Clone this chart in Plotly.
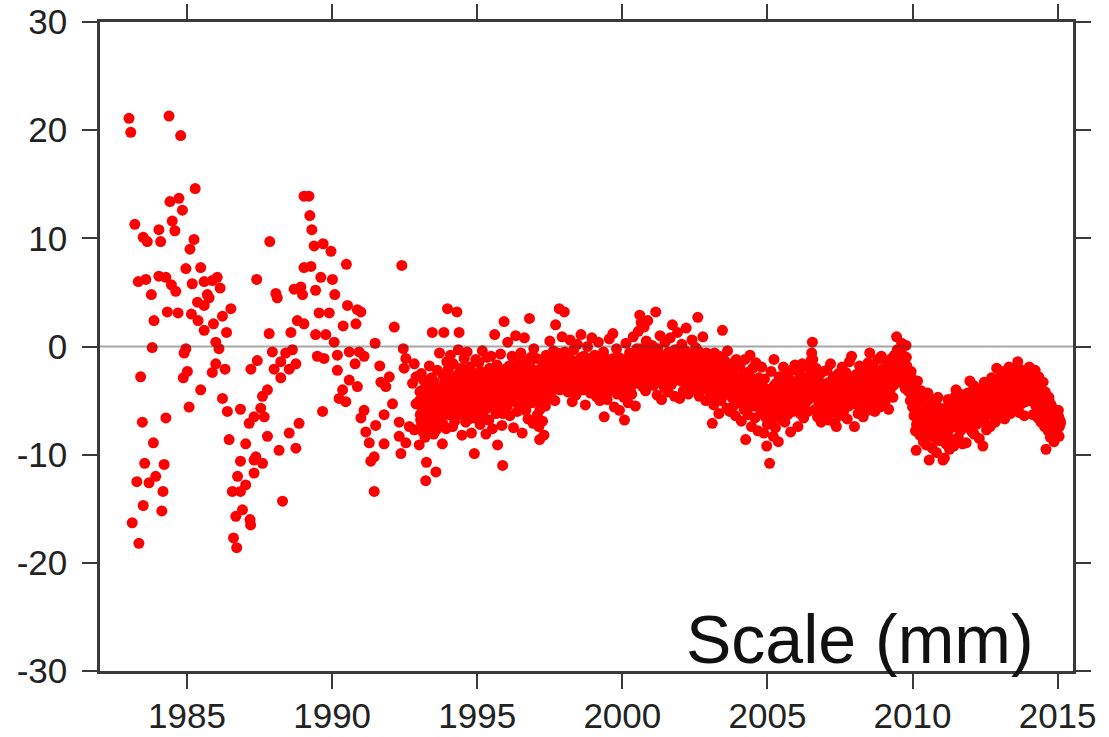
import plotly.graph_objects as go

# ---- sparse early solutions (epoch in decimal years, scale in mm) ----
early_epoch = [
    1983.00, 1983.06, 1984.38, 1984.78, 1985.28, 1984.41, 1984.72, 1984.84, 1983.20, 1984.49,
    1984.58, 1983.49, 1983.63, 1984.03, 1984.09, 1985.24, 1985.10, 1984.96, 1985.47, 1983.32,
    1983.58, 1984.03, 1984.27, 1984.46, 1984.61, 1983.77, 1985.18, 1985.59, 1985.87, 1986.04,
    1986.14, 1985.70, 1985.36, 1985.59, 1985.76, 1984.32, 1984.69, 1985.15, 1983.86, 1985.38,
    1985.59, 1985.91, 1986.22, 1986.51, 1986.36, 1983.80, 1984.96, 1984.90, 1985.99, 1986.10,
    1983.40, 1985.01, 1984.87, 1985.87, 1985.99, 1986.31, 1985.47, 1986.22, 1985.07, 1986.39,
    1986.84, 1983.46, 1984.27, 1987.14, 1983.84, 1986.45, 1987.02, 1983.54, 1984.21, 1986.84,
    1987.31, 1983.27, 1983.69, 1983.92, 1984.17, 1986.74, 1986.56, 1986.84, 1987.02, 1983.49,
    1984.13, 1986.91, 1986.68, 1983.11, 1983.34, 1986.60, 1986.71, 1987.40, 1987.54,
    1989.03, 1989.20, 1989.23, 1989.30, 1987.85, 1989.38, 1989.69, 1989.96, 1990.49, 1992.40,
    1989.03, 1989.27, 1989.61, 1990.01, 1988.06, 1988.11, 1988.69, 1988.92, 1988.98, 1989.43,
    1990.09, 1990.53, 1990.87, 1990.99, 1989.55, 1989.90, 1988.80, 1989.03, 1992.14, 1990.38,
    1990.82, 1987.83, 1988.58, 1989.43, 1989.78, 1990.07, 1991.48, 1992.45, 1987.94, 1988.40,
    1988.63, 1989.49, 1989.72, 1990.18, 1990.59, 1990.93, 1991.10, 1987.42, 1987.20, 1988.23,
    1988.75, 1988.00, 1988.52, 1990.18, 1990.79, 1991.64, 1991.97, 1991.68, 1991.85, 1992.54,
    1992.83, 1992.48, 1992.89, 1988.23, 1990.59, 1990.87, 1990.36, 1990.24, 1990.47, 1987.77,
    1987.60, 1987.31, 1987.66, 1992.08, 1991.79, 1991.10, 1990.99, 1991.50, 1989.67, 1988.86,
    1988.52, 1987.77, 1988.17, 1988.75, 1991.16, 1991.28, 1991.79, 1992.31, 1992.31, 1992.54,
    1992.37, 1991.33, 1991.45, 1991.45, 1987.37, 1987.60, 1987.31, 1988.29, 1987.17, 1987.19,
    1992.77, 1992.89, 1992.66, 1992.83,
]
early_scale = [
    21.1, 19.8, 21.3, 19.5, 14.6, 13.4, 13.7, 12.6, 11.3, 11.6,
    10.7, 10.1, 9.7, 10.8, 9.7, 9.9, 9.0, 7.2, 7.3, 6.0,
    6.2, 6.5, 6.4, 5.7, 5.1, 4.8, 5.8, 6.0, 6.1, 6.4,
    5.4, 4.8, 4.1, 3.8, 4.5, 3.2, 3.1, 3.0, 2.4, 2.4,
    1.5, 2.1, 2.8, 3.5, 1.3, -0.1, -0.2, -0.6, 0.4, -0.2,
    -2.8, -2.3, -2.9, -2.4, -1.6, -2.1, -4.0, -4.8, -5.6, -6.0,
    -5.8, -7.0, -6.6, -7.1, -8.9, -8.6, -9.0, -10.8, -10.9, -10.6,
    -10.5, -12.5, -12.6, -12.0, -13.4, -12.0, -13.4, -13.4, -12.8, -14.7,
    -15.2, -15.1, -15.7, -16.3, -18.2, -17.7, -18.6, 6.2, -5.7,
    13.9, 13.9, 12.1, 10.8, 9.7, 9.3, 9.5, 8.8, 7.6, 7.5,
    7.3, 7.4, 6.4, 6.2, 4.9, 4.5, 5.3, 5.5, 4.8, 5.2,
    4.8, 3.8, 3.4, 3.2, 3.1, 3.1, 2.4, 2.1, 1.8, 1.9,
    2.1, 1.2, 1.3, 1.1, 1.1, 0.4, 0.3, -0.2, -0.5, -0.6,
    -0.3, -0.9, -1.1, -0.8, -0.5, -0.5, -0.9, -1.3, -2.1, -1.4,
    -1.6, -2.1, -2.1, -2.2, -1.6, -1.8, -2.8, -3.3, -3.7, -1.1,
    -1.6, -2.0, -2.8, -2.9, -3.1, -3.7, -4.0, -4.8, -5.1, -4.0,
    -4.6, -6.5, -6.5, -5.3, -6.3, -5.9, -6.6, -7.3, -6.0, -7.1,
    -8.0, -8.3, -9.6, -9.4, -7.9, -8.9, -9.0, -7.0, -8.3, -8.9,
    -9.9, -10.6, -10.2, -13.4, -10.2, -10.8, -11.7, -14.3, -16.0, -16.5,
    -3.4, -5.3, -7.4, -7.7,
]

# ---- regular solutions from 1993 onward: two interleaved series,
#      each sampled every 1/40 year, the second offset by 1/80 year ----
week_a_start = 1993.0
week_b_start = 1993.0125
week_step = 0.025

week_a_1993_1997 = [
    -9.1, -4.2, -6.8, -2.5, -5.6, -7.9, -3.1, -6.2, -8.4, -12.4,
    -10.7, -5.0, -3.6, -7.3, -1.8, -4.9, -6.6, -2.9, 1.3, -5.4,
    -8.1, -3.3, -6.0, -11.6, -4.5, -2.2, -7.0, -5.8, -0.6, -3.9,
    -6.4, -4.8, -9.0, -2.7, 1.3, -5.2, -3.5, -7.6, -1.4, 3.5,
    -2.1, -6.3, -4.0, -0.8, -5.5, -3.2, -7.4, -1.6, -4.7, -6.9,
    -2.8, -5.1, 3.2, -3.7, -0.3, 1.3, -6.1, -4.4, -2.0, -8.2,
    -3.0, -5.8, -1.1, -4.9, -7.0, -2.6, -0.5, -5.3, -3.8, -6.7,
    -1.9, -4.1, -8.0, -2.4, -5.6, -3.4, -9.9, -6.2, -1.2, -4.3,
    -3.6, -6.0, -1.5, -4.8, -7.2, -2.3, -5.0, -0.4, -3.9, -6.5,
    -2.7, -4.4, -8.1, -1.0, -5.7, -3.1, -6.8, -2.0, -4.6, -0.9,
    -5.3, -7.6, -2.9, -4.0, 1.1, -3.4, -6.2, -1.7, -9.1, -4.7,
    -2.4, -5.9, -0.7, -3.6, -7.3, -11.0, -4.2, 2.3, -2.1, -5.0,
    -3.0, -5.6, 0.4, -4.3, -1.8, -6.4, -2.6, -4.9, -0.9, -3.7,
    -7.5, -2.2, -5.1, 1.0, -3.4, -6.0, -1.5, -4.4, -2.8, -5.7,
    -0.6, -3.9, -8.0, -2.1, -4.7, 0.8, -3.2, -5.9, -1.3, -4.0,
    -6.7, -2.5, 2.6, -3.6, -1.0, -5.2, -2.9, -7.1, -0.2, -3.8,
    -2.4, -4.6, -1.1, -6.3, -3.0, -7.4, -8.6, -5.2, -2.0, -4.1,
    -6.9, -1.6, -8.2, -3.5, -5.5, -0.8, -2.9, -4.8, -1.9, -3.3,
    0.5, -2.6, -4.3, -1.2, -3.8, -0.4, -2.2, -5.0, 2.0, -1.7,
    -3.1, -0.6, -2.5, 3.5, -4.0, -1.4, -2.8, 0.9, -3.6, -1.9,
]
week_a_1998_2002 = [
    3.2, -1.5, -3.4, -0.7, -2.6, -4.2, -1.0, -2.9, 0.6, -3.7,
    -1.8, -5.1, -2.3, -0.3, -3.0, -1.4, -4.5, -2.1, 0.2, -2.8,
    -3.9, -1.2, -2.5, 1.1, -3.3, -1.7, -4.0, -0.9, -2.4, -5.4,
    -1.9, -3.1, 0.0, -2.2, -3.6, -1.1, -4.3, -2.7, 0.8, -1.6,
    -2.0, -3.8, -0.8, -2.7, -4.6, -1.3, -3.2, 0.4, -2.4, -5.0,
    -1.6, -3.5, -2.1, -4.3, -0.5, -6.5, -2.9, -1.1, -3.7, -4.9,
    -1.9, -2.6, 0.7, -3.4, -1.4, -4.1, -2.3, 1.2, -3.0, -5.6,
    -1.7, -2.8, -0.2, -4.4, -3.1, -1.0, -5.9, -2.5, -3.9, -1.5,
    -3.3, -1.2, -4.7, -6.8, -2.0, 0.3, -3.6, -1.8, -5.2, -2.6,
    -0.6, -3.9, -1.5, -4.4, -2.3, 0.9, -3.0, -1.0, -5.5, -2.1,
    -0.2, -3.4, 1.4, -1.6, 2.9, -2.8, 2.2, -0.9, -3.7, -1.3,
    1.8, -2.5, -4.1, 0.5, -1.9, 2.4, -3.2, -0.4, -2.2, -1.1,
    -2.4, 0.1, -1.3, -3.6, -0.7, -2.9, 3.2, -1.8, -4.5, -0.2,
    -2.2, -3.3, 1.0, -1.5, -4.9, -0.8, -2.6, -1.2, -3.8, 0.4,
    -2.0, -1.0, -3.1, -4.2, -0.5, -2.7, 0.8, -1.6, -3.5, 2.0,
    -1.4, -2.5, -4.6, -0.3, -1.9, -3.0, 1.3, -2.3, -0.9, -4.8,
    -1.7, -3.2, 0.2, -2.4, -4.1, -1.1, -2.8, -0.4, 1.7, -3.6,
    -1.9, -4.4, -0.7, -2.6, -1.3, -3.3, 0.6, -2.1, -4.0, -1.5,
    -2.9, -0.1, -3.7, -1.8, 2.7, -2.3, -4.6, -0.9, -1.4, -3.0,
    -2.0, 0.9, -3.9, -1.6, -2.7, -5.0, -0.6, -2.2, -3.4, -1.2,
]
week_a_2003_2007 = [
    -2.6, -4.3, -1.0, -3.5, -7.1, -2.1, -5.4, -0.6, -3.0, -4.8,
    -1.7, -3.9, -2.4, -6.2, -0.9, -3.3, -5.0, -1.9, 1.5, -2.8,
    -4.5, -1.3, -3.6, -2.2, -5.7, -0.4, -3.1, -4.1, -6.0, -2.5,
    -1.6, -4.7, -3.4, -5.5, -2.0, -3.8, -6.4, -1.2, -4.4, -3.0,
    -3.6, -5.2, -1.8, -4.4, -6.9, -2.7, -4.9, -3.1, -5.8, -1.2,
    -8.6, -4.0, -2.4, -6.3, -3.7, -5.1, -0.8, -4.6, -7.4, -3.3,
    -2.0, -5.5, -4.2, -6.6, -1.5, -3.9, -5.0, -7.8, -2.9, -4.7,
    -3.5, -6.0, -1.9, -4.3, -5.7, -8.0, -3.0, -6.5, -4.8, -9.2,
    -7.2, -4.1, -6.0, -10.8, -5.6, -2.3, -6.8, -3.9, -8.3, -1.2,
    -5.0, -7.5, -3.4, -6.1, -4.6, -8.8, -2.8, -5.3, -4.0, -6.7,
    -3.1, -5.9, -1.9, -4.8, -7.0, -3.6, -5.4, -2.5, -6.3, -4.4,
    -3.0, -5.7, -7.9, -2.2, -4.9, -6.0, -3.3, -5.1, -1.7, -4.3,
    -5.5, -3.2, -7.4, -4.6, -2.4, -6.2, -3.8, -5.0, -1.6, -4.3,
    -6.6, -2.9, -5.3, -3.6, -4.8, -1.9, -6.0, -3.0, -4.2, -2.1,
    -1.3, -0.6, 0.4, -2.7, -4.5, -3.4, -5.8, -2.0, -4.0, -6.5,
    -3.1, -5.1, -2.6, -4.7, -7.0, -3.5, -5.6, -2.3, -4.1, -6.3,
    -3.7, -5.4, -2.2, -4.9, -6.8, -3.3, -4.5, -1.6, -5.9, -3.9,
    -6.1, -2.8, -4.2, -7.1, -5.0, -7.4, -3.5, -4.7, -2.5, -6.4,
    -4.0, -5.6, -3.0, -1.9, -4.4, -6.0, -3.6, -5.2, -2.4, -4.8,
    -6.7, -3.2, -5.5, -1.4, -4.3, -3.8, -0.9, -5.0, -2.9, -4.6,
]
week_a_2008_2011 = [
    -7.4, -4.1, -2.6, -5.3, -3.4, -6.2, -4.7, -1.8, -3.9, -5.7,
    -2.9, -4.4, -6.5, -3.1, -5.0, -2.2, -4.6, -3.6, -5.9, -1.5,
    -3.3, -0.6, -4.8, -2.7, -5.4, -3.8, -1.9, -4.2, -6.0, -2.4,
    -3.5, -5.1, -1.2, -4.0, -2.8, -5.6, -3.0, -0.9, -4.5, -2.1,
    -3.8, -2.0, -5.2, -3.1, -4.4, -1.4, -3.6, -5.8, -2.5, -4.0,
    -2.9, -1.1, -3.4, -4.7, -2.2, -0.8, -3.0, -1.7, 0.9, -0.3,
    -2.4, -1.2, -3.3, -0.6, -1.9, 0.3, -2.8, -1.5, -0.9, -2.2,
    -3.9, 0.1, -1.8, -3.1, -2.6, -4.2, -3.5, -5.0, -2.3, -4.4,
    -5.6, -3.7, -6.4, -4.5, -7.8, -9.6, -5.1, -3.2, -6.9, -4.8,
    -8.2, -5.9, -4.1, -7.0, -6.2, -8.8, -4.6, -7.4, -5.5, -9.1,
    -6.6, -4.3, -7.7, -10.5, -5.8, -8.0, -6.0, -9.4, -4.9, -7.2,
    -6.8, -8.5, -5.3, -9.8, -7.5, -4.7, -6.3, -8.7, -5.7, -7.9,
    -8.3, -6.1, -10.5, -7.4, -10.3, -5.7, -9.0, -6.8, -8.1, -4.9,
    -7.6, -9.5, -6.3, -5.2, -8.6, -7.0, -5.9, -9.2, -6.5, -4.6,
    -4.0, -7.3, -5.5, -8.4, -6.0, -4.4, -7.8, -5.1, -6.7, -9.0,
    -4.8, -6.2, -7.1, -5.4, -8.9, -6.6, -4.3, -7.5, -5.8, -3.2,
]
week_a_2012_2015 = [
    -6.4, -4.7, -7.9, -5.3, -3.6, -8.1, -6.0, -4.2, -7.2, -5.6,
    -3.9, -6.8, -8.5, -5.0, -4.4, -7.0, -6.1, -9.2, -5.4, -3.3,
    -6.6, -4.9, -7.7, -5.8, -3.8, -6.2, -4.5, -7.4, -5.1, -2.9,
    -6.3, -4.0, -5.7, -3.4, -7.0, -4.8, -2.0, -5.5, -3.7, -6.5,
    -4.6, -2.8, -6.0, -3.5, -5.2, -2.3, -4.1, -6.7, -3.0, -4.9,
    -2.5, -5.6, -3.8, -1.9, -4.4, -6.2, -3.1, -5.0, -2.6, -4.0,
    -3.4, -5.7, -2.1, -4.7, -3.2, -1.4, -4.3, -6.1, -2.7, -3.9,
    -5.3, -2.2, -4.5, -3.6, -6.4, -2.9, -5.1, -3.3, -4.8, -2.4,
    -3.7, -1.9, -5.0, -3.1, -4.4, -2.5, -6.3, -3.9, -4.8, -2.2,
    -5.5, -3.4, -4.1, -6.6, -2.8, -5.2, -3.6, -7.0, -4.5, -6.0,
    -3.3, -5.8, -7.4, -4.2, -9.5, -6.5, -5.1, -7.8, -4.7, -6.9,
    -8.4, -5.4, -7.2, -6.1, -5.8, -8.8, -6.7, -7.5, -8.0, -6.2,
    -7.6, -5.9, -8.3, -6.8, -7.1,
]

week_b_1993_1997 = [
    -5.0, -6.3, -4.1, -7.2, -5.8, -4.6, -6.9, -5.3, -3.8, -6.1,
    -7.5, -4.4, -5.9, -6.6, -4.0, -5.1, -7.0, -3.6, -5.6, -6.4,
    -4.8, -6.0, -5.2, -7.7, -4.3, -5.7, -3.9, -6.5, -5.0, -4.5,
    -6.2, -5.4, -7.1, -4.2, -5.8, -3.3, -6.0, -4.9, -5.5, -3.0,
    -4.2, -5.5, -3.6, -4.9, -6.1, -3.0, -5.2, -4.4, -3.8, -5.9,
    -4.1, -2.7, -3.5, -5.0, -4.6, -2.4, -5.4, -3.9, -4.8, -6.3,
    -4.0, -3.3, -5.6, -4.3, -5.1, -3.7, -4.5, -2.9, -5.8, -4.1,
    -3.4, -5.3, -6.0, -4.7, -3.2, -5.0, -6.6, -4.4, -3.6, -4.9,
    -4.5, -3.2, -5.1, -3.8, -4.4, -2.9, -5.6, -3.5, -4.1, -4.9,
    -3.3, -5.2, -4.0, -2.6, -4.7, -3.6, -5.4, -3.0, -4.3, -3.9,
    -5.0, -4.4, -3.1, -4.8, -2.5, -3.7, -5.3, -4.2, -5.9, -3.4,
    -4.6, -3.8, -2.8, -4.9, -5.5, -6.2, -3.5, -2.2, -4.0, -4.3,
    -3.8, -4.6, -2.5, -3.2, -4.1, -3.6, -2.8, -4.5, -3.0, -3.9,
    -5.0, -3.4, -4.2, -2.3, -3.7, -4.4, -2.9, -3.5, -4.0, -4.8,
    -2.6, -3.3, -5.2, -3.8, -3.1, -2.4, -4.3, -3.6, -2.7, -4.1,
    -4.6, -3.0, -1.5, -3.4, -2.8, -4.0, -3.7, -4.9, -2.2, -3.5,
    -3.3, -2.7, -3.9, -4.5, -2.6, -5.0, -5.8, -3.6, -2.9, -3.4,
    -4.2, -2.5, -4.8, -3.1, -3.7, -2.2, -3.5, -2.8, -3.0, -3.9,
    -1.8, -3.2, -2.6, -3.5, -2.3, -1.9, -3.0, -3.6, -1.2, -2.7,
    -2.4, -1.7, -3.1, -0.8, -2.9, -2.2, -3.4, -1.5, -2.6, -2.0,
]
week_b_1998_2002 = [
    -0.5, -2.4, -2.0, -1.6, -3.0, -2.7, -1.9, -2.3, -1.2, -2.8,
    -2.1, -3.4, -1.7, -2.5, -2.2, -1.4, -3.1, -2.6, -1.8, -2.0,
    -2.9, -1.5, -2.3, -1.0, -2.6, -2.2, -3.2, -1.9, -2.7, -3.6,
    -2.4, -2.0, -1.3, -2.8, -2.5, -1.7, -3.0, -2.1, -1.4, -2.3,
    -2.2, -2.9, -1.9, -3.3, -2.6, -2.0, -2.7, -1.5, -3.1, -3.5,
    -2.3, -2.8, -1.8, -3.0, -2.1, -4.0, -3.4, -2.4, -2.9, -3.6,
    -2.2, -1.7, -1.3, -2.5, -2.0, -3.2, -2.6, -1.1, -2.8, -3.8,
    -2.3, -2.1, -1.6, -3.0, -2.7, -1.9, -3.7, -2.4, -2.9, -2.0,
    -2.5, -2.0, -3.0, -3.8, -2.4, -1.3, -2.6, -2.1, -3.3, -1.8,
    -1.5, -2.7, -2.2, -2.9, -1.9, -1.0, -2.4, -1.6, -3.1, -2.3,
    -1.4, -2.1, -0.7, -1.9, -0.2, -2.2, -0.6, -1.7, -2.5, -1.5,
    -0.8, -2.0, -2.6, -1.2, -1.8, -0.4, -2.3, -1.4, -2.0, -1.6,
    -2.0, -1.2, -1.6, -2.5, -1.4, -2.2, -0.3, -1.9, -2.8, -1.1,
    -1.8, -2.4, -0.9, -1.5, -3.0, -1.3, -2.1, -1.7, -2.6, -1.0,
    -1.9, -1.4, -2.3, -2.7, -1.2, -2.0, -0.8, -1.6, -2.4, -0.5,
    -1.5, -2.1, -2.9, -1.3, -1.8, -2.2, -0.7, -2.0, -1.4, -2.6,
    -1.9, -2.5, -1.2, -2.2, -2.8, -1.6, -2.1, -1.5, -0.6, -2.6,
    -2.0, -2.9, -1.4, -2.3, -1.8, -2.4, -1.1, -2.0, -2.7, -1.7,
    -2.2, -1.3, -2.5, -1.9, -0.4, -2.1, -3.0, -1.6, -1.8, -2.4,
    -2.3, -1.2, -2.8, -2.0, -2.5, -3.3, -1.7, -2.4, -2.9, -2.1,
]
week_b_2003_2007 = [
    -2.8, -3.3, -2.2, -3.0, -4.4, -2.6, -3.7, -2.0, -2.9, -3.5,
    -2.4, -3.1, -2.7, -3.9, -2.1, -3.2, -3.6, -2.5, -1.4, -2.9,
    -3.4, -2.3, -3.0, -2.6, -3.8, -2.0, -3.1, -3.3, -4.1, -2.8,
    -2.5, -3.6, -3.2, -3.9, -2.7, -3.4, -4.2, -2.9, -3.7, -3.5,
    -3.9, -4.5, -3.2, -4.1, -5.0, -3.6, -4.4, -3.8, -4.7, -3.0,
    -5.6, -4.0, -3.4, -4.9, -3.9, -4.6, -2.8, -4.2, -5.3, -3.7,
    -3.3, -4.6, -4.1, -5.0, -3.1, -3.9, -4.5, -5.5, -3.6, -4.3,
    -3.8, -4.8, -3.5, -4.2, -4.9, -5.8, -3.9, -5.1, -4.4, -4.0,
    -5.6, -4.5, -6.2, -7.0, -5.1, -3.9, -5.7, -4.6, -6.0, -3.6,
    -5.0, -5.9, -4.4, -5.3, -4.8, -6.3, -4.1, -5.2, -4.7, -5.5,
    -4.3, -5.1, -3.8, -4.9, -5.6, -4.4, -5.0, -4.0, -5.4, -4.6,
    -4.2, -5.2, -5.9, -3.9, -4.7, -5.3, -4.3, -4.9, -3.6, -4.5,
    -4.8, -4.0, -5.5, -4.4, -3.6, -5.0, -4.2, -4.6, -3.3, -4.3,
    -5.1, -3.8, -4.7, -4.1, -4.5, -3.4, -4.9, -3.9, -4.2, -3.2,
    -2.6, -1.9, -1.2, -3.1, -4.0, -3.7, -4.6, -3.3, -4.1, -4.9,
    -3.8, -4.5, -3.6, -4.4, -5.2, -4.0, -4.7, -3.5, -4.2, -4.8,
    -4.2, -4.8, -3.7, -4.5, -5.3, -4.0, -4.4, -3.5, -5.0, -4.3,
    -5.1, -3.9, -4.6, -5.4, -4.8, -5.6, -4.1, -4.5, -3.8, -5.2,
    -4.4, -4.9, -4.0, -3.6, -4.6, -5.0, -4.2, -4.7, -3.7, -4.5,
    -5.3, -4.1, -4.8, -3.4, -4.4, -4.0, -3.2, -4.7, -3.9, -4.3,
]
week_b_2008_2011 = [
    -5.3, -4.2, -3.6, -4.6, -4.0, -4.9, -4.3, -3.4, -4.1, -4.7,
    -3.8, -4.3, -5.0, -3.9, -4.5, -3.5, -4.2, -3.9, -4.8, -3.2,
    -3.7, -2.5, -4.4, -3.6, -4.6, -4.0, -3.3, -4.1, -4.9, -3.5,
    -3.9, -4.4, -3.0, -4.0, -3.6, -4.5, -3.8, -2.9, -4.2, -3.4,
    -3.6, -3.0, -4.1, -3.4, -3.8, -2.7, -3.5, -4.3, -3.1, -3.7,
    -3.2, -2.4, -3.3, -3.6, -2.6, -1.9, -2.8, -2.2, -0.9, -1.4,
    -2.1, -1.6, -2.6, -1.3, -1.8, -0.8, -2.3, -1.7, -1.2, -2.0,
    -2.7, -1.0, -2.1, -2.8, -2.5, -3.4, -3.1, -4.0, -2.9, -3.6,
    -4.9, -4.4, -5.5, -5.0, -6.3, -7.2, -5.4, -4.6, -6.0, -5.5,
    -6.8, -6.2, -5.4, -6.5, -6.1, -7.3, -5.8, -6.7, -6.3, -7.6,
    -6.6, -5.9, -7.1, -8.2, -6.4, -7.3, -6.8, -7.8, -6.2, -7.0,
    -6.9, -7.5, -6.3, -7.9, -7.2, -6.0, -6.7, -7.4, -6.5, -7.1,
    -7.3, -6.6, -8.0, -7.1, -7.9, -6.4, -7.5, -6.9, -7.2, -6.0,
    -6.8, -7.6, -6.5, -6.1, -7.2, -6.7, -6.3, -7.4, -6.6, -5.8,
    -5.4, -6.5, -6.0, -6.9, -6.2, -5.6, -6.8, -5.9, -6.4, -7.1,
    -5.7, -6.1, -6.5, -5.8, -6.9, -6.3, -5.5, -6.6, -6.0, -4.9,
]
week_b_2012_2015 = [
    -6.0, -5.3, -6.5, -5.6, -4.9, -6.4, -5.8, -5.1, -6.2, -5.5,
    -4.8, -6.0, -6.7, -5.4, -5.0, -6.1, -5.7, -6.9, -5.5, -4.6,
    -5.9, -5.2, -6.3, -5.6, -4.9, -5.8, -5.1, -6.0, -5.3, -4.4,
    -5.7, -4.9, -5.4, -4.5, -5.8, -5.0, -3.9, -5.2, -4.6, -5.5,
    -4.5, -3.6, -4.9, -4.0, -4.6, -3.5, -4.2, -5.1, -3.8, -4.4,
    -3.6, -4.8, -4.1, -3.2, -4.3, -5.0, -3.9, -4.5, -3.7, -4.2,
    -3.9, -4.7, -3.3, -4.4, -3.8, -2.9, -4.2, -4.9, -3.6, -4.0,
    -4.6, -3.4, -4.3, -3.9, -5.0, -3.7, -4.5, -3.8, -4.4, -3.6,
    -4.1, -3.4, -4.7, -3.9, -4.3, -3.6, -5.1, -4.2, -4.6, -3.5,
    -4.9, -4.0, -4.4, -5.3, -3.8, -4.8, -4.2, -5.5, -4.6, -5.2,
    -4.5, -5.4, -6.0, -4.9, -6.8, -5.7, -5.3, -6.4, -5.1, -6.0,
    -6.8, -5.6, -6.3, -6.0, -5.9, -7.0, -6.4, -6.8, -7.0, -6.6,
    -7.0, -6.5, -7.4, -6.9,
]

x_ticks = [1985, 1990, 1995, 2000, 2005, 2010, 2015]
y_ticks = [-30, -20, -10, 0, 10, 20, 30]
y_tick_labels = ["-30", "-20", "-10", "0", "10", "20", "30"]
panel_title = "Scale (mm)"

week_a = week_a_1993_1997 + week_a_1998_2002 + week_a_2003_2007 + week_a_2008_2011 + week_a_2012_2015
week_b = week_b_1993_1997 + week_b_1998_2002 + week_b_2003_2007 + week_b_2008_2011 + week_b_2012_2015
week_a_epoch = [week_a_start + i * week_step for i in range(len(week_a))]
week_b_epoch = [week_b_start + i * week_step for i in range(len(week_b))]

epoch = early_epoch + week_a_epoch + week_b_epoch
scale = early_scale + week_a + week_b

axis_color = "#3a3a3a"
font_family = "Liberation Sans, Arial, Helvetica, sans-serif"

fig = go.Figure()
fig.add_trace(go.Scatter(
    x=epoch, y=scale, mode="markers",
    marker=dict(color="#ff0000", size=11, line=dict(width=0)),
    hoverinfo="skip", showlegend=False,
))

# zero reference line drawn over the points
fig.add_shape(type="line", xref="paper", yref="y", x0=0, x1=1, y0=0, y1=0,
              line=dict(color="rgba(60,60,60,0.45)", width=2), layer="above")

fig.add_annotation(
    text=panel_title, xref="paper", yref="y", x=0.962, y=-27.0,
    xanchor="right", yanchor="middle", showarrow=False,
    font=dict(family=font_family, size=68, color="#111111"),
)

axis_common = dict(
    showline=True, linecolor=axis_color, linewidth=2.5, mirror="ticks",
    ticks="outside", ticklen=15, tickwidth=1.5, tickcolor=axis_color,
    showgrid=False, zeroline=False, automargin=False,
    tickfont=dict(family=font_family, size=35, color="#222222"),
)

fig.update_xaxes(range=[1982.0, 2015.53], tickvals=x_ticks, ticklabelstandoff=-3, **axis_common)
fig.update_yaxes(range=[-30, 30], tickvals=y_ticks, ticktext=y_tick_labels,
                 ticklabelstandoff=8, **axis_common)

fig.update_layout(
    width=1109, height=737,
    margin=dict(l=100, r=36, t=22, b=66),
    plot_bgcolor="white", paper_bgcolor="white",
)

fig.write_html("out.html")
